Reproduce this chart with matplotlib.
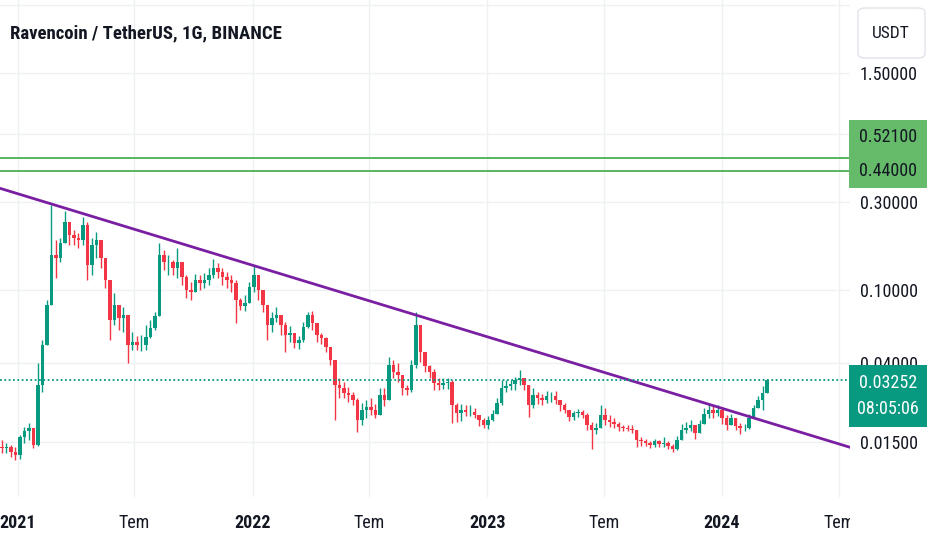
import pandas as pd
import matplotlib
matplotlib.use("Agg")
import matplotlib.pyplot as plt
from matplotlib.patches import Rectangle, FancyBboxPatch
from matplotlib.ticker import NullLocator

plt.rcParams['font.family'] = ['Roboto Condensed', 'DejaVu Sans']

# RVN/USDT (one candle per week, open = previous close)
start = "2020-12-07"
first_open = 0.0141
close = [0.0139, 0.0141, 0.0133, 0.0128, 0.0160, 0.0171, 0.0179, 0.0145, 0.0306, 0.0503,
         0.0829, 0.155, 0.149, 0.180, 0.234, 0.199, 0.191, 0.187, 0.225, 0.137,
         0.175, 0.187, 0.149, 0.113, 0.0688, 0.0829, 0.0705, 0.0732, 0.0503, 0.0523,
         0.0503, 0.0503, 0.0556, 0.0623, 0.0723, 0.155, 0.142, 0.142, 0.132, 0.142,
         0.118, 0.100, 0.0975, 0.113, 0.109, 0.113, 0.121, 0.132, 0.125, 0.118,
         0.113, 0.109, 0.0883, 0.0819, 0.0850, 0.104, 0.121, 0.100, 0.0829, 0.0646,
         0.0705, 0.0732, 0.0646, 0.0570, 0.0584, 0.0516, 0.0536, 0.0630, 0.0732, 0.0663,
         0.0570, 0.0549, 0.0491, 0.0418, 0.0306, 0.0295, 0.0277, 0.0270, 0.0254, 0.0198,
         0.0224, 0.0233, 0.0224, 0.0210, 0.0270, 0.0254, 0.0392, 0.0360, 0.0346, 0.0294,
         0.0287, 0.0392, 0.0646, 0.0461, 0.0387, 0.0360, 0.0313, 0.0306, 0.0313, 0.0317,
         0.0238, 0.0216, 0.0224, 0.0219, 0.0219, 0.0210, 0.0198, 0.0186, 0.0198, 0.0213,
         0.0244, 0.0294, 0.0302, 0.0310, 0.0325, 0.0333, 0.0306, 0.0238, 0.0270, 0.0260,
         0.0254, 0.0267, 0.0267, 0.0254, 0.0238, 0.0224, 0.0205, 0.0216, 0.0219, 0.0210,
         0.0186, 0.0175, 0.0179, 0.0210, 0.0198, 0.0192, 0.0188, 0.0181, 0.0179, 0.0177,
         0.0175, 0.0154, 0.0151, 0.0148, 0.0145, 0.0151, 0.0147, 0.0148, 0.0143, 0.0138,
         0.0154, 0.0175, 0.0179, 0.0186, 0.0168, 0.0188, 0.0213, 0.0224, 0.0216, 0.0224,
         0.0203, 0.0186, 0.0203, 0.0184, 0.0179, 0.0179, 0.0203, 0.0230, 0.0254, 0.0277,
         0.03252]
high = [0.0154, 0.0148, 0.0145, 0.0141, 0.0164, 0.0181, 0.0189, 0.0175, 0.0402, 0.0536,
        0.0883, 0.289, 0.187, 0.191, 0.268, 0.234, 0.211, 0.204, 0.249, 0.234,
        0.191, 0.206, 0.175, 0.142, 0.106, 0.0963, 0.0829, 0.0809, 0.0688, 0.0592,
        0.0563, 0.0570, 0.0646, 0.0688, 0.0760, 0.180, 0.165, 0.155, 0.146, 0.169,
        0.128, 0.121, 0.110, 0.122, 0.121, 0.124, 0.132, 0.147, 0.140, 0.132,
        0.125, 0.121, 0.113, 0.0905, 0.0939, 0.110, 0.137, 0.116, 0.0939, 0.0829,
        0.0760, 0.0809, 0.0732, 0.0671, 0.0638, 0.0584, 0.0563, 0.0671, 0.0760, 0.0769,
        0.0630, 0.0584, 0.0556, 0.0491, 0.0407, 0.0333, 0.0317, 0.0298, 0.0280, 0.0260,
        0.0244, 0.0254, 0.0260, 0.0241, 0.0294, 0.0294, 0.0434, 0.0418, 0.0402, 0.0333,
        0.0306, 0.0418, 0.0760, 0.0607, 0.0429, 0.0392, 0.0373, 0.0333, 0.0333, 0.0333,
        0.0325, 0.0244, 0.0241, 0.0238, 0.0238, 0.0230, 0.0205, 0.0203, 0.0208, 0.0224,
        0.0260, 0.0325, 0.0325, 0.0325, 0.0337, 0.0369, 0.0333, 0.0306, 0.0294, 0.0280,
        0.0273, 0.0284, 0.0280, 0.0284, 0.0254, 0.0244, 0.0224, 0.0221, 0.0227, 0.0224,
        0.0216, 0.0192, 0.0190, 0.0238, 0.0230, 0.0210, 0.0203, 0.0192, 0.0186, 0.0186,
        0.0186, 0.0175, 0.0160, 0.0156, 0.0152, 0.0156, 0.0154, 0.0160, 0.0152, 0.0147,
        0.0162, 0.0188, 0.0192, 0.0198, 0.0186, 0.0198, 0.0230, 0.0244, 0.0236, 0.0238,
        0.0233, 0.0210, 0.0213, 0.0198, 0.0190, 0.0188, 0.0213, 0.0238, 0.0267, 0.0302,
        0.0329]
low = [0.0131, 0.0131, 0.0125, 0.0120, 0.0122, 0.0148, 0.0154, 0.0139, 0.0143, 0.0280,
       0.0503, 0.0883, 0.116, 0.142, 0.182, 0.175, 0.175, 0.169, 0.175, 0.113,
       0.121, 0.149, 0.132, 0.103, 0.0536, 0.0646, 0.0607, 0.0592, 0.0402, 0.0473,
       0.0473, 0.0467, 0.0473, 0.0549, 0.0607, 0.0861, 0.128, 0.121, 0.121, 0.116,
       0.106, 0.0905, 0.0883, 0.0975, 0.100, 0.103, 0.106, 0.116, 0.116, 0.106,
       0.103, 0.0975, 0.0663, 0.0779, 0.0769, 0.0905, 0.0975, 0.0883, 0.0760, 0.0536,
       0.0592, 0.0671, 0.0570, 0.0461, 0.0523, 0.0485, 0.0479, 0.0523, 0.0623, 0.0607,
       0.0523, 0.0510, 0.0461, 0.0392, 0.0198, 0.0260, 0.0260, 0.0247, 0.0238, 0.0170,
       0.0186, 0.0203, 0.0210, 0.0203, 0.0230, 0.0236, 0.0254, 0.0333, 0.0317, 0.0270,
       0.0270, 0.0280, 0.0378, 0.0407, 0.0360, 0.0333, 0.0287, 0.0287, 0.0291, 0.0291,
       0.0190, 0.0192, 0.0195, 0.0208, 0.0208, 0.0203, 0.0184, 0.0179, 0.0177, 0.0195,
       0.0219, 0.0238, 0.0280, 0.0287, 0.0287, 0.0306, 0.0287, 0.0205, 0.0230, 0.0241,
       0.0238, 0.0244, 0.0247, 0.0241, 0.0221, 0.0216, 0.0195, 0.0198, 0.0205, 0.0203,
       0.0175, 0.0138, 0.0166, 0.0186, 0.0186, 0.0181, 0.0179, 0.0173, 0.0173, 0.0173,
       0.0168, 0.0141, 0.0143, 0.0143, 0.0139, 0.0141, 0.0141, 0.0141, 0.0138, 0.0133,
       0.0136, 0.0158, 0.0168, 0.0173, 0.0156, 0.0175, 0.0190, 0.0203, 0.0203, 0.0208,
       0.0188, 0.0175, 0.0188, 0.0175, 0.0166, 0.0171, 0.0177, 0.0205, 0.0230, 0.0224,
       0.0280]

# drawn lines
trend_dates = ["2020-12-04", "2024-07-18"]
trend_prices = [0.3557, 0.01404]
levels = [0.521, 0.44]
last_price = 0.03252
countdown = "08:05:06"

price_ticks = [0.015, 0.04, 0.1, 0.3, 0.7, 1.5, 3.5]
price_labels = ["0.01500", "0.04000", "0.10000", "0.30000", "", "1.50000", ""]
time_ticks = ["2021-01-01", "2021-07-01", "2022-01-01", "2022-07-01",
              "2023-01-01", "2023-07-01", "2024-01-01", "2024-07-01"]
time_labels = ["2021", "Tem", "2022", "Tem", "2023", "Tem", "2024", "Tem"]

UP, DOWN = "#089981", "#f23645"
INK = "#131722"
W, H = 932, 550
AX_R, AX_B = 850, 497

fig = plt.figure(figsize=(W / 100, H / 100), dpi=100)
ax = fig.add_axes([0, (H - AX_B) / H, AX_R / W, AX_B / H])
ax.set_yscale("log")

dates = pd.date_range(start, periods=len(close), freq="7D")
opens = [first_open] + close[:-1]
cols = [UP if c >= o else DOWN for o, c in zip(opens, close)]
lo = [min(l, o, c) for l, o, c in zip(low, opens, close)]
hi = [max(h, o, c) for h, o, c in zip(high, opens, close)]
ax.vlines(dates, lo, hi, colors=cols, lw=1.0, zorder=3)
ax.bar(dates, [abs(c - o) for o, c in zip(opens, close)],
       bottom=[min(o, c) for o, c in zip(opens, close)],
       width=6.0, color=cols, zorder=3)

ax.plot(pd.to_datetime(trend_dates), trend_prices, color="#7b1fa2", lw=2, zorder=4)
for lv in levels:
    ax.axhline(lv, color="#4caf50", lw=1.3, zorder=4)
ax.axhline(last_price, color=UP, lw=1.3, ls=(0, (1, 1.4)), zorder=4)

ax.set_xlim(pd.Timestamp("2020-12-04"), pd.Timestamp("2024-07-18"))
ax.set_ylim(0.00755, 3.731)

ax.set_yticks(price_ticks)
ax.set_yticklabels(price_labels)
ax.yaxis.set_minor_locator(NullLocator())
ax.yaxis.tick_right()
ax.tick_params(axis="y", length=0, pad=7, labelsize=13, labelcolor=INK)
ax.set_xticks(pd.to_datetime(time_ticks))
ax.set_xticklabels(time_labels)
ax.tick_params(axis="x", length=0, pad=12, labelsize=13, labelcolor=INK)
for t in ax.get_xticklabels():
    if t.get_text() != "Tem":
        t.set_fontweight("bold")

ax.grid(True, color="#eef0f4", lw=1)
ax.set_axisbelow(True)
for s in ax.spines.values():
    s.set_visible(False)


def box(x0, y0, x1, y1, **kw):
    r = Rectangle((x0 / W, 1 - y1 / H), (x1 - x0) / W, (y1 - y0) / H,
                  transform=fig.transFigure, **kw)
    fig.add_artist(r)


# price scale overlays
box(AX_R, 500, W, H, facecolor="white", edgecolor="none", zorder=2)
box(AX_R, 0, W, 66, facecolor="white", edgecolor="none", zorder=2)
usdt = FancyBboxPatch((858 / W, 1 - 58 / H), 67 / W, 50 / H,
                      boxstyle="round,pad=0,rounding_size=0.008",
                      transform=fig.transFigure, facecolor="white",
                      edgecolor="#e0e3eb", lw=1, zorder=3)
fig.add_artist(usdt)
fig.text(891 / W, 1 - 33 / H, "USDT", ha="center", va="center",
         fontsize=12.5, color=INK, zorder=4)

box(849, 120, 927, 154, facecolor="#66bb6a", edgecolor="none", zorder=3)
box(849, 154, 927, 188, facecolor="#66bb6a", edgecolor="none", zorder=3)
fig.text(888 / W, 1 - 137 / H, f"{levels[0]:.5f}", ha="center", va="center",
         fontsize=13, color=INK, zorder=4)
fig.text(888 / W, 1 - 171 / H, f"{levels[1]:.5f}", ha="center", va="center",
         fontsize=13, color=INK, zorder=4)

box(849, 365, 927, 427, facecolor=UP, edgecolor="none", zorder=3)
fig.text(888 / W, 1 - 383 / H, f"{last_price:.5f}", ha="center", va="center",
         fontsize=13, color="white", zorder=4)
fig.text(888 / W, 1 - 409 / H, countdown, ha="center", va="center",
         fontsize=13, color="white", zorder=4)

fig.text(10 / W, 1 - 33 / H, "Ravencoin / TetherUS, 1G, BINANCE", ha="left",
         va="center", fontsize=13.5, fontweight="bold", color=INK)

fig.savefig("out.png", dpi=100)
